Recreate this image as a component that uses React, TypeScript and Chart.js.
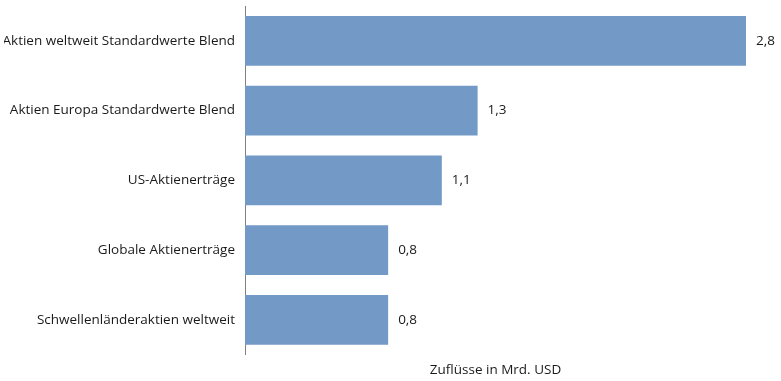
import React, { useEffect, useRef } from "react";
import { Chart, registerables } from "chart.js";

Chart.register(...registerables);

const categories = [
  "Aktien weltweit Standardwerte Blend",
  "Aktien Europa Standardwerte Blend",
  "US-Aktienerträge",
  "Globale Aktienerträge",
  "Schwellenländeraktien weltweit",
];
const flows = [2.8, 1.3, 1.1, 0.8, 0.8];
const axisTitle = "Zuflüsse in Mrd. USD";

const FONT = "'Open Sans', sans-serif";
const SIZE = 13.5;

const valueLabels = {
  id: "valueLabels",
  afterDatasetsDraw(chart: any) {
    const { ctx } = chart;
    const meta = chart.getDatasetMeta(0);
    ctx.save();
    ctx.font = `${SIZE}px ${FONT}`;
    ctx.fillStyle = "#1a1a1a";
    ctx.textAlign = "left";
    ctx.textBaseline = "middle";
    meta.data.forEach((bar: any, i: number) => {
      const v = chart.data.datasets[0].data[i] as number;
      ctx.fillText(v.toFixed(1).replace(".", ","), bar.x + 10, bar.y);
    });
    ctx.restore();
  },
};

export default function App() {
  const ref = useRef<HTMLCanvasElement>(null);
  useEffect(() => {
    document.body.style.margin = "0";
    const chart = new Chart(ref.current!, {
      type: "bar",
      data: {
        labels: categories,
        datasets: [
          {
            data: flows,
            backgroundColor: "#7399c6",
            barPercentage: 0.714,
            categoryPercentage: 1,
          },
        ],
      },
      options: {
        indexAxis: "y",
        animation: false,
        responsive: false,
        layout: { padding: { top: 6, right: 35, left: 4, bottom: 0 } },
        plugins: { legend: { display: false }, tooltip: { enabled: false } },
        scales: {
          x: {
            min: 0,
            max: 2.8,
            grid: { display: false },
            border: { display: false },
            ticks: { display: false },
            title: {
              display: true,
              text: axisTitle,
              color: "#1a1a1a",
              font: { family: FONT, size: SIZE },
              padding: { top: -1, bottom: 3 },
            },
          },
          y: {
            afterFit(scale: any) {
              scale.paddingTop = 0;
              scale.paddingBottom = 0;
              scale.width = 241;
            },
            grid: { display: false, drawTicks: false },
            border: { display: true, color: "#808080", width: 1 },
            ticks: {
              color: "#1a1a1a",
              padding: 10,
              font: { family: FONT, size: SIZE },
            },
          },
        },
      },
      plugins: [valueLabels],
    });
    return () => chart.destroy();
  }, []);
  return <canvas ref={ref} width={781} height={381} style={{ display: "block" }} />;
}
